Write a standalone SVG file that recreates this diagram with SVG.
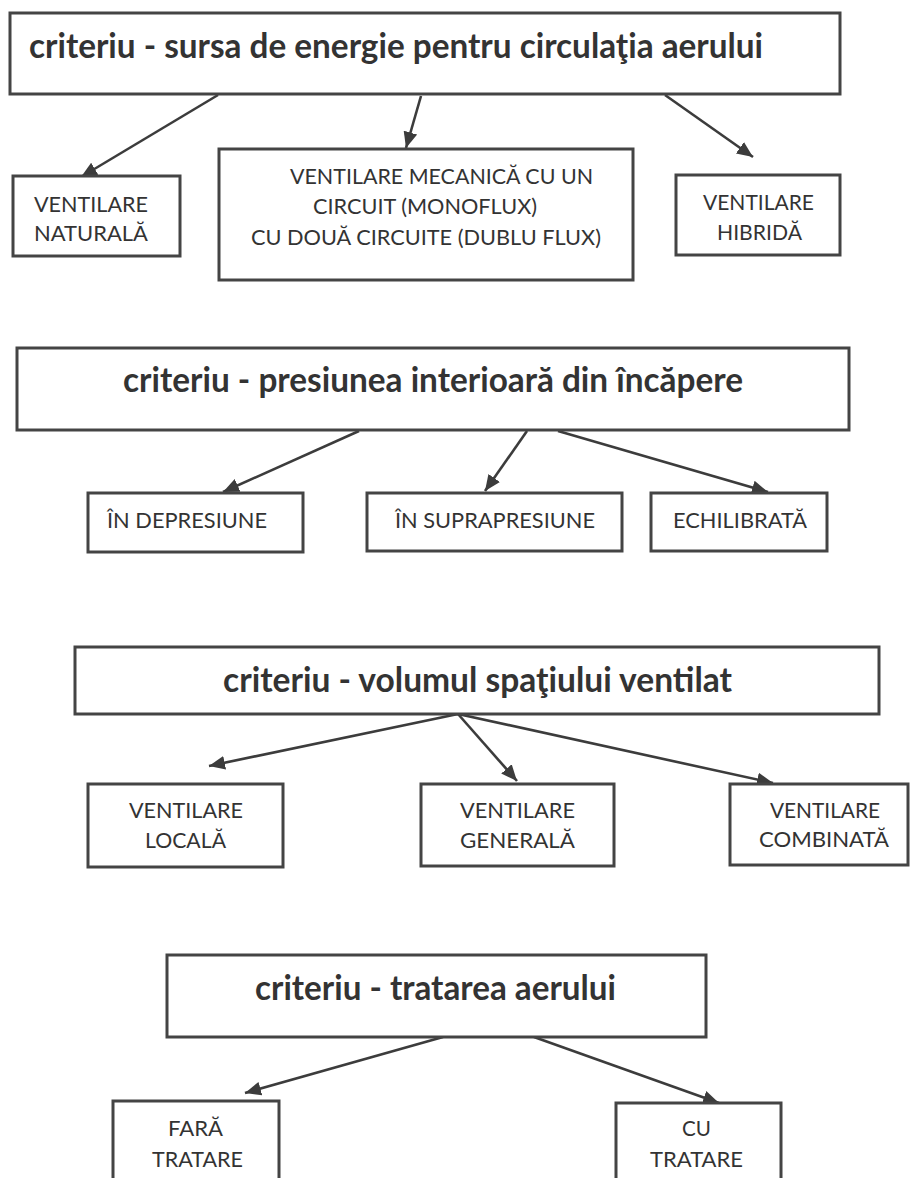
<svg xmlns="http://www.w3.org/2000/svg" width="910" height="1178" viewBox="0 0 910 1178">
<style>
.box{fill:#fff;stroke:#444;stroke-width:3}
.t{font-family:Lato,"Open Sans","Liberation Sans",sans-serif;font-weight:bold;font-size:34px;fill:#333}
.s{font-family:Lato,"Open Sans","Liberation Sans",sans-serif;font-size:22px;fill:#333}
.c{stroke:#3c3c3c;stroke-width:2.6;fill:none;marker-end:url(#ah)}
</style>
<defs>
<marker id="ah" markerUnits="userSpaceOnUse" markerWidth="18" markerHeight="16" refX="16" refY="8" orient="auto">
<path d="M0,1 L16,8 L0,15 Z" fill="#3c3c3c"/>
</marker>
</defs>
<rect width="910" height="1178" fill="#fff"/>
<g id="connectors">
<line class="c" x1="218" y1="95" x2="81" y2="177"/>
<line class="c" x1="421" y1="96" x2="406" y2="148"/>
<line class="c" x1="665" y1="95" x2="753" y2="157"/>
<line class="c" x1="359" y1="431" x2="223" y2="492"/>
<line class="c" x1="527" y1="431" x2="485" y2="491"/>
<line class="c" x1="558" y1="431" x2="768" y2="492"/>
<line class="c" x1="458" y1="714" x2="209" y2="766"/>
<line class="c" x1="458" y1="714" x2="517" y2="781"/>
<line class="c" x1="458" y1="714" x2="773" y2="783"/>
<line class="c" x1="443" y1="1037" x2="245" y2="1093"/>
<line class="c" x1="534" y1="1037" x2="719" y2="1103"/>
</g>
<g id="n1"><rect class="box" x="10" y="13" width="830" height="81"/><text class="t" x="29" y="58" textLength="734" lengthAdjust="spacingAndGlyphs">criteriu - sursa de energie pentru circulaţia aerului</text></g>
<g id="n2"><rect class="box" x="13" y="176" width="167" height="80"/><text class="s" x="34" y="212" textLength="114" lengthAdjust="spacingAndGlyphs">VENTILARE</text><text class="s" x="34" y="241" textLength="114" lengthAdjust="spacingAndGlyphs">NATURALĂ</text></g>
<g id="n3"><rect class="box" x="219" y="149" width="414" height="131"/><text class="s" x="290" y="184" textLength="303" lengthAdjust="spacingAndGlyphs">VENTILARE MECANICĂ CU UN</text><text class="s" x="313" y="214" textLength="224" lengthAdjust="spacingAndGlyphs">CIRCUIT (MONOFLUX)</text><text class="s" x="251" y="245" textLength="350" lengthAdjust="spacingAndGlyphs">CU DOUĂ CIRCUITE (DUBLU FLUX)</text></g>
<g id="n4"><rect class="box" x="676" y="175" width="164" height="80"/><text class="s" x="703" y="210" textLength="111" lengthAdjust="spacingAndGlyphs">VENTILARE</text><text class="s" x="717" y="240" textLength="85" lengthAdjust="spacingAndGlyphs">HIBRIDĂ</text></g>
<g id="n5"><rect class="box" x="17" y="348" width="832" height="82"/><text class="t" x="123" y="392" textLength="620" lengthAdjust="spacingAndGlyphs">criteriu - presiunea interioară din încăpere</text></g>
<g id="n6"><rect class="box" x="88" y="493" width="215" height="59"/><text class="s" x="107" y="528" textLength="160" lengthAdjust="spacingAndGlyphs">ÎN DEPRESIUNE</text></g>
<g id="n7"><rect class="box" x="367" y="493" width="255" height="58"/><text class="s" x="395" y="528" textLength="200" lengthAdjust="spacingAndGlyphs">ÎN SUPRAPRESIUNE</text></g>
<g id="n8"><rect class="box" x="651" y="493" width="176" height="58"/><text class="s" x="673" y="528" textLength="134" lengthAdjust="spacingAndGlyphs">ECHILIBRATĂ</text></g>
<g id="n9"><rect class="box" x="75" y="647" width="804" height="67"/><text class="t" x="223" y="692" textLength="509" lengthAdjust="spacingAndGlyphs">criteriu - volumul spaţiului ventilat</text></g>
<g id="n10"><rect class="box" x="88" y="784" width="195" height="83"/><text class="s" x="129" y="818" textLength="114" lengthAdjust="spacingAndGlyphs">VENTILARE</text><text class="s" x="145" y="848" textLength="81" lengthAdjust="spacingAndGlyphs">LOCALĂ</text></g>
<g id="n11"><rect class="box" x="421" y="784" width="193" height="82"/><text class="s" x="460" y="818" textLength="115" lengthAdjust="spacingAndGlyphs">VENTILARE</text><text class="s" x="460" y="848" textLength="115" lengthAdjust="spacingAndGlyphs">GENERALĂ</text></g>
<g id="n12"><rect class="box" x="730" y="784" width="178" height="81"/><text class="s" x="770" y="818" textLength="110" lengthAdjust="spacingAndGlyphs">VENTILARE</text><text class="s" x="759" y="847" textLength="130" lengthAdjust="spacingAndGlyphs">COMBINATĂ</text></g>
<g id="n13"><rect class="box" x="167" y="955" width="539" height="82"/><text class="t" x="255" y="1000" textLength="361" lengthAdjust="spacingAndGlyphs">criteriu - tratarea aerului</text></g>
<g id="n14"><rect class="box" x="113" y="1101" width="166" height="100"/><text class="s" x="168" y="1136" textLength="55" lengthAdjust="spacingAndGlyphs">FARĂ</text><text class="s" x="152" y="1167" textLength="91" lengthAdjust="spacingAndGlyphs">TRATARE</text></g>
<g id="n15"><rect class="box" x="616" y="1103" width="165" height="100"/><text class="s" x="682" y="1136" textLength="29" lengthAdjust="spacingAndGlyphs">CU</text><text class="s" x="650" y="1167" textLength="93" lengthAdjust="spacingAndGlyphs">TRATARE</text></g>
</svg>
